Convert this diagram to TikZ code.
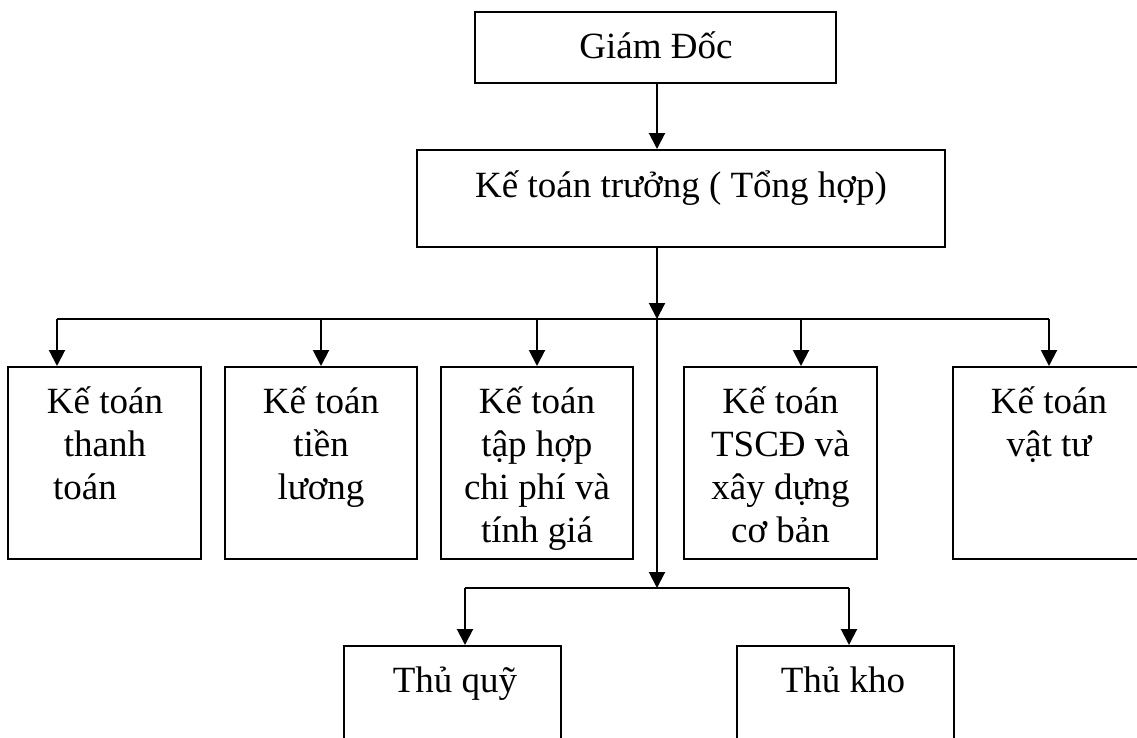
\documentclass[tikz,border=0pt]{standalone}
\usepackage{fontspec}
\setmainfont{Liberation Serif}
\usetikzlibrary{arrows.meta}
\begin{document}
\begin{tikzpicture}[x=1pt,y=-1pt,
  box/.style={draw, line width=2pt, rectangle, inner sep=0pt},
  lbl/.style={font=\fontsize{37}{43}\selectfont, align=center, inner sep=0pt, anchor=base},
  conn/.style={line width=2pt},
  arr/.style={line width=2pt, -{Triangle[length=16pt 0,width=16pt 0]}}]
\clip (0,0) rectangle (1137,737);
% boxes
\node[box, minimum width=361pt, minimum height=71pt] (gd) at (655.5,47.5) {};
\node[box, minimum width=528pt, minimum height=97pt] (ktt) at (681,198.5) {};
\node[box, minimum width=193pt, minimum height=192pt] (b1) at (104.5,463) {};
\node[box, minimum width=192pt, minimum height=192pt] (b2) at (321,463) {};
\node[box, minimum width=192pt, minimum height=192pt] (b3) at (537,463) {};
\node[box, minimum width=193pt, minimum height=192pt] (b4) at (780.5,463) {};
\node[box, minimum width=193pt, minimum height=192pt] (b5) at (1049,463) {};
\node[box, minimum width=217pt, minimum height=120pt] (tq) at (452.5,706) {};
\node[box, minimum width=217pt, minimum height=120pt] (tk) at (845.5,706) {};
% texts (base anchor = baseline of the last line)
\node[lbl] (gdt) at (656,58) {Giám Đốc};
\node[lbl] (kttt) at (681,197) {Kế toán trưởng ( Tổng hợp)};
\node[lbl] (b1t) at (105,499) {Kế toán\\thanh\\toán\rule{40pt}{0pt}};
\node[lbl] (b2t) at (321,499) {Kế toán\\tiền\\lương};
\node[lbl] (b3t) at (537,542) {Kế toán\\tập hợp\\chi phí và\\tính giá};
\node[lbl] (b4t) at (780.5,542) {Kế toán\\TSCĐ và\\xây dựng\\cơ bản};
\node[lbl] (b5t) at (1049,456) {Kế toán\\vật tư};
\node[lbl] (tqt) at (455,692) {Thủ quỹ};
\node[lbl] (tkt) at (843,692) {Thủ kho};
% connector points
\coordinate (hub) at (657,319);
\coordinate (hub2) at (657,588);
\coordinate (busL) at (57,319);
\coordinate (busR) at (1049,319);
\coordinate (d4) at (801,319);
\coordinate (qL) at (465,588);
\coordinate (qR) at (849,588);
% connectors
\draw[arr] (hub |- gd.south) -- (hub |- ktt.north);
\draw[arr] (hub |- ktt.south) -- (hub);
\draw[arr] (hub) -- (hub2);
\draw[conn] (busL) -- (busR);
\draw[arr] (busL) -- (busL |- b1.north);
\draw[arr] (b2.north |- hub) -- (b2.north);
\draw[arr] (b3.north |- hub) -- (b3.north);
\draw[arr] (d4) -- (d4 |- b4.north);
\draw[arr] (busR) -- (busR |- b5.north);
\draw[conn] (qL) -- (qR);
\draw[arr] (qL) -- (qL |- tq.north);
\draw[arr] (qR) -- (qR |- tk.north);
\end{tikzpicture}
\end{document}
